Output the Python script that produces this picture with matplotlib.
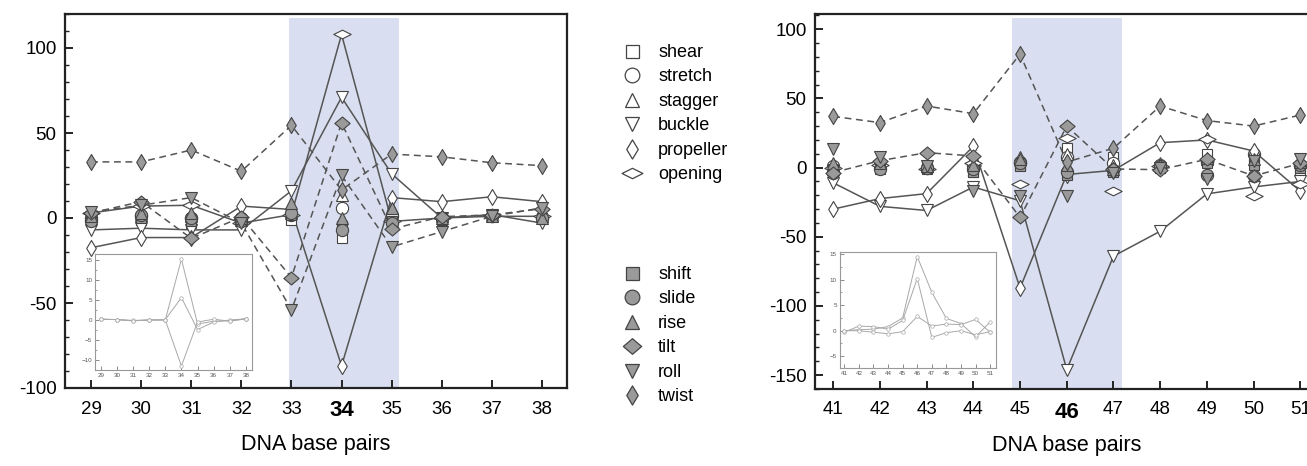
import matplotlib
matplotlib.use('Agg')
import matplotlib.pyplot as plt
from matplotlib.path import Path
from matplotlib.lines import Line2D
from matplotlib.ticker import MultipleLocator

plt.rcParams['font.family'] = ['Liberation Sans', 'DejaVu Sans']

# ---------------- data ----------------
names = ['shear', 'stretch', 'stagger', 'buckle', 'propeller', 'opening',
         'shift', 'slide', 'rise', 'tilt', 'roll', 'twist']

left_x = [29, 30, 31, 32, 33, 34, 35, 36, 37, 38]
left_vals = {
    'shear':     [-2, -1, -3, -1, -1, -12, -3, -1, 1, 0],
    'stretch':   [0, 1, 0, 0, 2, 6, 1, 0, 1, 0],
    'stagger':   [1, 2, 1, -1, 3, 13.5, 6, 1, 2, 1],
    'buckle':    [-7, -6, -7, -7, 16, 71, 26, 0, 2, -3],
    'propeller': [-17.5, -11.5, -11.5, 7, 5, -87, 12, 9.6, 12.5, 9.6],
    'opening':   [3, 7, 7.5, -3, 2, 108, -2, 0, 1, 1],
    'shift':     [-1, 0, -2, -1, 2, -5, -2, 0, 2, 0],
    'slide':     [-2, 2, 0, -2, 3, -7, -3, 0, 1, 0],
    'rise':      [1, 3, 3, 0, 9, 0, 6, 0, 1, 0],
    'tilt':      [3, 9.6, -12, 0.5, -35, 56, -6.5, 0.8, 1.8, 5.5],
    'roll':      [3.5, 7.5, 12, -3, -54, 25, -17, -8, 1, 6],
    'twist':     [33, 33, 40, 27.5, 54.5, 16.5, 37.6, 36, 32.5, 30.8],
}
left_solid = ['buckle', 'propeller', 'opening']
left_dashed = ['tilt', 'roll', 'twist']

right_x = [41, 42, 43, 44, 45, 46, 47, 48, 49, 50, 51]
right_vals = {
    'shear':     [-2, -1, -1, -3, 2, 14.4, 8, 0, 10, 8, -3],
    'stretch':   [1, 2, 0, 2, 4, 8, 3, 2, 4, 10, 2],
    'stagger':   [2, 4, 1, 5, 8, 9.6, 2, 3, 6, 13, 6],
    'buckle':    [-11, -28, -31, -14, -24, -146, -64, -46, -19, -14, -10],
    'propeller': [-30, -22.4, -18.8, 15.4, -87, -5, -2, 18, 20, 12, -17],
    'opening':   [0, 2, -1, 3, -12, 21.7, -16.8, 1, 21, -20.5, -12],
    'shift':     [-1, 1, 0, -3, 1, -5, -3, 0, 3, 2, 0],
    'slide':     [-4, -1, 0, -1, 3, -3, -2, 1, -5, -6, 2],
    'rise':      [3, 3, 1, 2, 6, 2, -1, 2, 7, 6, 4],
    'tilt':      [-3.6, 5, 10.8, 8.4, -36, 30, -1, -1.5, 6, -6, 3],
    'roll':      [13.7, 7.7, 1, -16.8, -20.5, -20.5, -4, 0, -8, 5, 6],
    'twist':     [37, 32.5, 44.5, 39, 82, 4, 14, 44.5, 34, 30, 38],
}
right_solid = ['buckle', 'propeller']
right_dashed = ['tilt', 'twist']

left_inset = [
    [0.2, 0.1, -0.2, 0.0, 0.0, 15.2, -1.0, -0.3, -0.2, 0.3],
    [0.2, 0.1, -0.1, 0.0, 0.1, 5.6, -2.4, -0.5, 0.0, 0.3],
    [0.2, 0.1, -0.2, 0.0, 0.0, -11.5, -0.5, 0.2, -0.3, 0.3],
]
right_inset = [
    [0.0, 0.2, 0.3, 0.8, 2.5, 14.5, 7.5, 2.4, 1.4, -1.2, 1.7],
    [-0.3, 0.9, 0.8, 0.3, 2.0, 10.2, -1.3, -0.4, 0.0, -0.8, -0.2],
    [0.0, 0.0, -0.3, -0.6, -0.2, 2.8, 0.9, 1.3, 1.2, 2.2, -0.3],
]

left_shade = (32.95, 35.15)
right_shade = (44.82, 47.18)
left_bold = 34
right_bold = 46

# ---------------- styles ----------------
narrow = Path([(0, 1), (0.6, 0), (0, -1), (-0.6, 0), (0, 1)], closed=True)
regular = Path([(0, 0.85), (1, 0), (0, -0.85), (-1, 0), (0, 0.85)], closed=True)
wide = Path([(0, 0.5), (1, 0), (0, -0.5), (-1, 0), (0, 0.5)], closed=True)

EDGE = '#444444'
FILL = '#9a9a9a'
style = {
    'shear':     dict(marker='s', ms=7.8, mfc='white'),
    'stretch':   dict(marker='o', ms=8.8, mfc='white'),
    'stagger':   dict(marker='^', ms=8.8, mfc='white'),
    'buckle':    dict(marker='v', ms=8.8, mfc='white'),
    'propeller': dict(marker=narrow, ms=11.5, mfc='white'),
    'opening':   dict(marker=wide, ms=12.5, mfc='white'),
    'shift':     dict(marker='s', ms=7.8, mfc=FILL),
    'slide':     dict(marker='o', ms=8.8, mfc=FILL),
    'rise':      dict(marker='^', ms=8.8, mfc=FILL),
    'tilt':      dict(marker=regular, ms=11, mfc=FILL),
    'roll':      dict(marker='v', ms=8.8, mfc=FILL),
    'twist':     dict(marker=narrow, ms=11.5, mfc=FILL),
}

W, H = 1307, 466
fig = plt.figure(figsize=(W / 100, H / 100), dpi=100)


def px_axes(x0, x1, y0, y1):
    return [x0 / W, 1 - y1 / H, (x1 - x0) / W, (y1 - y0) / H]


def draw_panel(ax, xs, vals, solid, dashed, shade, bold, ylim, yticks, xlim):
    ax.axvspan(shade[0], shade[1], ymin=0, ymax=0.99, color='#d9dff0', lw=0, zorder=0)
    for n in solid:
        ax.plot(xs, vals[n], color='#555555', lw=1.1, ls='-', zorder=2)
    for n in dashed:
        ax.plot(xs, vals[n], color='#555555', lw=1.1, ls=(0, (4.5, 3)), zorder=2)
    for n in names:
        st = style[n]
        ax.plot(xs, vals[n], ls='none', marker=st['marker'], ms=st['ms'],
                mfc=st['mfc'], mec=EDGE, mew=0.8, zorder=3)
    ax.set_xlim(*xlim)
    ax.set_ylim(*ylim)
    ax.set_xticks(xs)
    ax.set_xticklabels([str(v) for v in xs])
    ax.set_yticks(yticks)
    ax.set_yticklabels([str(v) for v in yticks])
    ax.yaxis.set_minor_locator(MultipleLocator(10))
    ax.tick_params(axis='both', which='major', direction='in', length=6,
                   width=1.4, labelsize=13.5, color='#222222', pad=6)
    ax.tick_params(axis='y', which='minor', direction='in', length=3,
                   width=1.0, color='#222222')
    ax.tick_params(axis='x', pad=9)
    for lab in ax.get_xticklabels():
        if lab.get_text() == str(bold):
            lab.set_fontweight('bold')
            lab.set_fontsize(16)
    for sp in ax.spines.values():
        sp.set_linewidth(1.6)
        sp.set_color('#222222')
    ax.set_xlabel('DNA base pairs', fontsize=15.5, labelpad=9)


def draw_inset(ax, xs, lines, ylim, yticks, xlim):
    for ys in lines:
        ax.plot(xs, ys, color='#a8a8a8', lw=0.7, marker='o', ms=2.5,
                mfc='white', mec='#a8a8a8', mew=0.5)
    ax.set_xlim(*xlim)
    ax.set_ylim(*ylim)
    ax.set_xticks(xs)
    ax.set_yticks(yticks)
    ax.yaxis.set_minor_locator(MultipleLocator(2.5))
    ax.tick_params(axis='both', which='major', direction='in', length=3,
                   width=0.6, labelsize=4.5, color='#777777',
                   labelcolor='#555555', pad=2)
    ax.tick_params(axis='y', which='minor', direction='in', length=1.5,
                   width=0.5, color='#777777')
    for sp in ax.spines.values():
        sp.set_linewidth(0.8)
        sp.set_color('#999999')


axL = fig.add_axes(px_axes(65, 567, 14, 388))
draw_panel(axL, left_x, left_vals, left_solid, left_dashed, left_shade,
           left_bold, (-100, 120), [-100, -50, 0, 50, 100], (28.48, 38.5))

axR = fig.add_axes(px_axes(815, 1319, 14, 389))
draw_panel(axR, right_x, right_vals, right_solid, right_dashed, right_shade,
           right_bold, (-160, 111), [-150, -100, -50, 0, 50, 100], (40.61, 51.4))

inL = fig.add_axes(px_axes(95, 252, 254, 370))
draw_inset(inL, left_x, left_inset, (-12.5, 16.5), [-10, -5, 0, 5, 10, 15],
           (28.65, 38.37))
inR = fig.add_axes(px_axes(839.5, 996, 252, 368))
draw_inset(inR, right_x, right_inset, (-7.3, 15.4), [-5, 0, 5, 10, 15],
           (40.67, 51.4))

# ---------------- legends ----------------
def handles(group):
    hs = []
    for n in group:
        st = style[n]
        hs.append(Line2D([], [], ls='none', marker=st['marker'], ms=st['ms'] * 1.2,
                         mfc=st['mfc'], mec=EDGE, mew=0.9, label=n))
    return hs

leg_kw = dict(frameon=False, fontsize=13, handlelength=1.2, handletextpad=0.85,
              labelspacing=0.415, borderpad=0, borderaxespad=0, loc='upper left')
fig.legend(handles=handles(names[:6]), bbox_to_anchor=(621 / W, 1 - 44 / H), **leg_kw)
fig.legend(handles=handles(names[6:]), bbox_to_anchor=(621 / W, 1 - 266 / H), **leg_kw)

fig.savefig('out.png', dpi=100)
